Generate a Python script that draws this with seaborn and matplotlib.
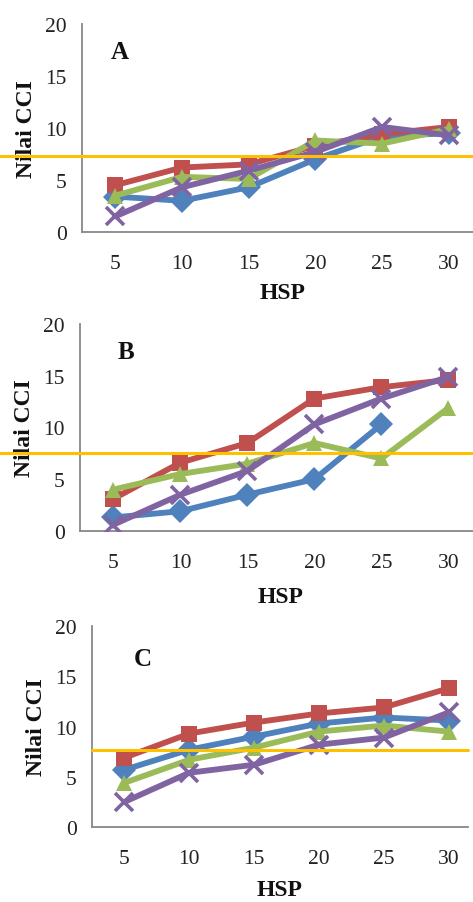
import matplotlib
matplotlib.use("Agg")
import matplotlib.pyplot as plt
import seaborn as sns
import pandas as pd
import numpy as np

hsp = [5, 10, 15, 20, 25, 30]
series_names = ["S1", "S2", "S3", "S4"]

a_blue = [3.4, 3.0, 4.3, 7.0, 9.2, 9.5]
a_red = [4.5, 6.2, 6.5, 8.3, 9.4, 10.1]
a_green = [3.5, 5.3, 5.1, 8.8, 8.5, 9.9]
a_purple = [1.5, 4.3, 5.9, 7.7, 10.1, 9.3]
a_ref = 7.3

b_blue = [1.3, 1.9, 3.5, 5.0, 10.3, np.nan]
b_red = [3.1, 6.6, 8.5, 12.8, 13.9, 14.6]
b_green = [4.0, 5.5, 6.5, 8.5, 7.0, 11.9]
b_purple = [0.6, 3.5, 5.8, 10.3, 12.8, 14.9]
b_ref = 7.5

c_blue = [5.7, 7.7, 9.0, 10.3, 10.9, 10.6]
c_red = [6.9, 9.3, 10.4, 11.3, 11.9, 13.8]
c_green = [4.4, 6.7, 7.9, 9.5, 10.1, 9.5]
c_purple = [2.5, 5.4, 6.2, 8.2, 8.9, 11.4]
c_ref = 7.7

panel_labels = ["A", "B", "C"]
yticks = [0, 5, 10, 15, 20]

colors = {"S1": "#4F81BD", "S2": "#C0504D", "S3": "#9BBB59", "S4": "#8064A2"}
markers = {"S1": "D", "S2": "s", "S3": "^", "S4": "X"}

sns.set_theme(style="white")
plt.rcParams["font.family"] = ["Liberation Serif", "DejaVu Serif"]

fig = plt.figure(figsize=(4.73, 9.03), dpi=100)

panels = [
    ([a_blue, a_red, a_green, a_purple], a_ref, [0.1734, 0.742, 0.846, 0.2303], 5.5, (0.07, 17.4), -0.21, 6),
    ([b_blue, b_red, b_green, b_purple], b_ref, [0.169, 0.411, 0.850, 0.229], 5.5, (0.18, 17.3), -0.21, 10),
    ([c_blue, c_red, c_green, c_purple], c_ref, [0.1945, 0.083, 0.795, 0.2226], 5.3, (0.29, 16.8), 0.0, 8),
]

for (vals, ref, pos, xmax, lblpos, hx, xlp), lbl in zip(panels, panel_labels):
    ax = fig.add_axes(pos)
    rows = []
    for name, v in zip(series_names, vals):
        for i, (h, y) in enumerate(zip(hsp, v)):
            rows.append({"idx": i, "HSP": h, "val": y, "series": name})
    df = pd.DataFrame(rows)
    sns.lineplot(data=df, x="idx", y="val", hue="series", style="series",
                 palette=colors, markers=markers, dashes=False, ax=ax,
                 linewidth=4.2, markersize=12, markeredgewidth=0,
                 legend=False, sort=False, zorder=3)
    for line in ax.lines:
        if line.get_marker() == "X":
            line.set_marker("x")
            line.set_markersize(13)
            line.set_markeredgewidth(2.6)
            line.set_markeredgecolor(colors["S4"])
    ax.axhline(ref, xmin=hx, xmax=1.0, color="#FFC000", linewidth=2.2,
               clip_on=False, zorder=4)
    ax.set_xlim(-0.5, xmax)
    ax.set_ylim(0, 20)
    ax.set_xticks(range(len(hsp)))
    ax.set_xticklabels([str(h) for h in hsp])
    ax.set_yticks(yticks)
    ax.tick_params(axis="both", length=0, labelsize=15.5, colors="#222222")
    ax.tick_params(axis="x", pad=16)
    ax.tick_params(axis="y", pad=11)
    for s in ["top", "right"]:
        ax.spines[s].set_visible(False)
    for s in ["left", "bottom"]:
        ax.spines[s].set_color("#888888")
        ax.spines[s].set_linewidth(1.3)
    ax.set_xlabel("HSP", fontsize=17, fontweight="bold", labelpad=xlp, color="#111111")
    ax.set_ylabel("Nilai CCI", fontsize=17, fontweight="bold", labelpad=6, color="#111111")
    ax.text(lblpos[0], lblpos[1], lbl, fontsize=18, fontweight="bold",
            ha="center", va="center", color="#111111")

fig.savefig("out.png", dpi=100)
